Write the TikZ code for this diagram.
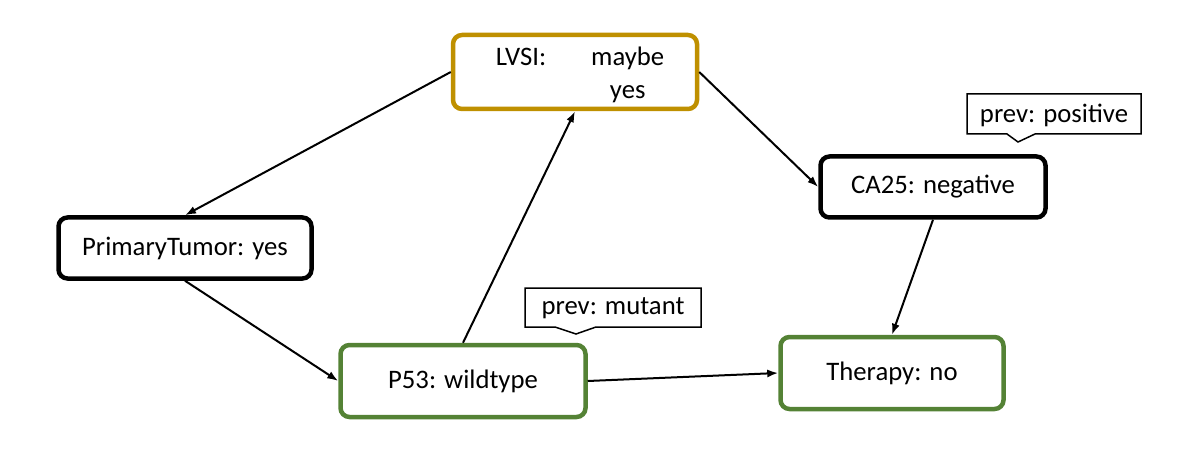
\documentclass[tikz,border=0pt]{standalone}
\usepackage{fontspec}
\setmainfont{Carlito}
\usepackage{xcolor}
\usetikzlibrary{arrows.meta}

\definecolor{lvsigold}{HTML}{BF9000}
\definecolor{evgreen}{HTML}{548235}

\begin{document}
\begin{tikzpicture}[x=1pt, y=-1pt,
    every node/.style={font=\fontsize{26.7}{33}\selectfont},
    varbox/.style={draw, line width=4.5pt, rounded corners=9pt, fill=white, inner sep=0pt},
    link/.style={line width=2pt, -{Latex[length=11pt,width=8pt]}},
    prevbox/.style={line width=1.5pt}]
    \useasboundingbox (0,0) rectangle (1186,465);

    % Variables
    \node[varbox, draw=lvsigold, minimum width=244pt, minimum height=74pt] (lvsi) at (575,72) {};
    \node (lvsitext) at (580,75) {\begin{tabular}{@{}l@{\hspace{45pt}}c@{}}LVSI: & maybe\\ & yes\end{tabular}};
    \node[varbox, minimum width=225pt, minimum height=61pt] (ca) at (933,187) {CA25: negative};
    \node[varbox, minimum width=253pt, minimum height=61pt] (tumor) at (185,248) {PrimaryTumor: yes};
    \node[varbox, draw=evgreen, minimum width=245pt, minimum height=72pt] (p53) at (463,381) {P53: wildtype};
    \node[varbox, draw=evgreen, minimum width=223pt, minimum height=72pt] (therapy) at (892,373) {Therapy: no};

    % Previous values
    \draw[prevbox] (967,94) -- (1141,94) -- (1141,134) -- (1035,134) -- (1018,142) -- (1007,134) -- (967,134) -- cycle;
    \node (prevca) at (1054,115) {prev: positive};
    \draw[prevbox] (525,288) -- (701,288) -- (701,327) -- (596,327) -- (576,334) -- (555,327) -- (525,327) -- cycle;
    \node (prevp53) at (613,308) {prev: mutant};

    % Edges
    \draw[link] (lvsi.west) -- (tumor.north);
    \draw[link] (lvsi.east) -- (ca.west);
    \draw[link] (tumor.south) -- (p53.west);
    \draw[link] (p53.north) -- (lvsi.south);
    \draw[link] (p53.east) -- (therapy.west);
    \draw[link] (ca.south) -- (therapy.north);
\end{tikzpicture}
\end{document}
